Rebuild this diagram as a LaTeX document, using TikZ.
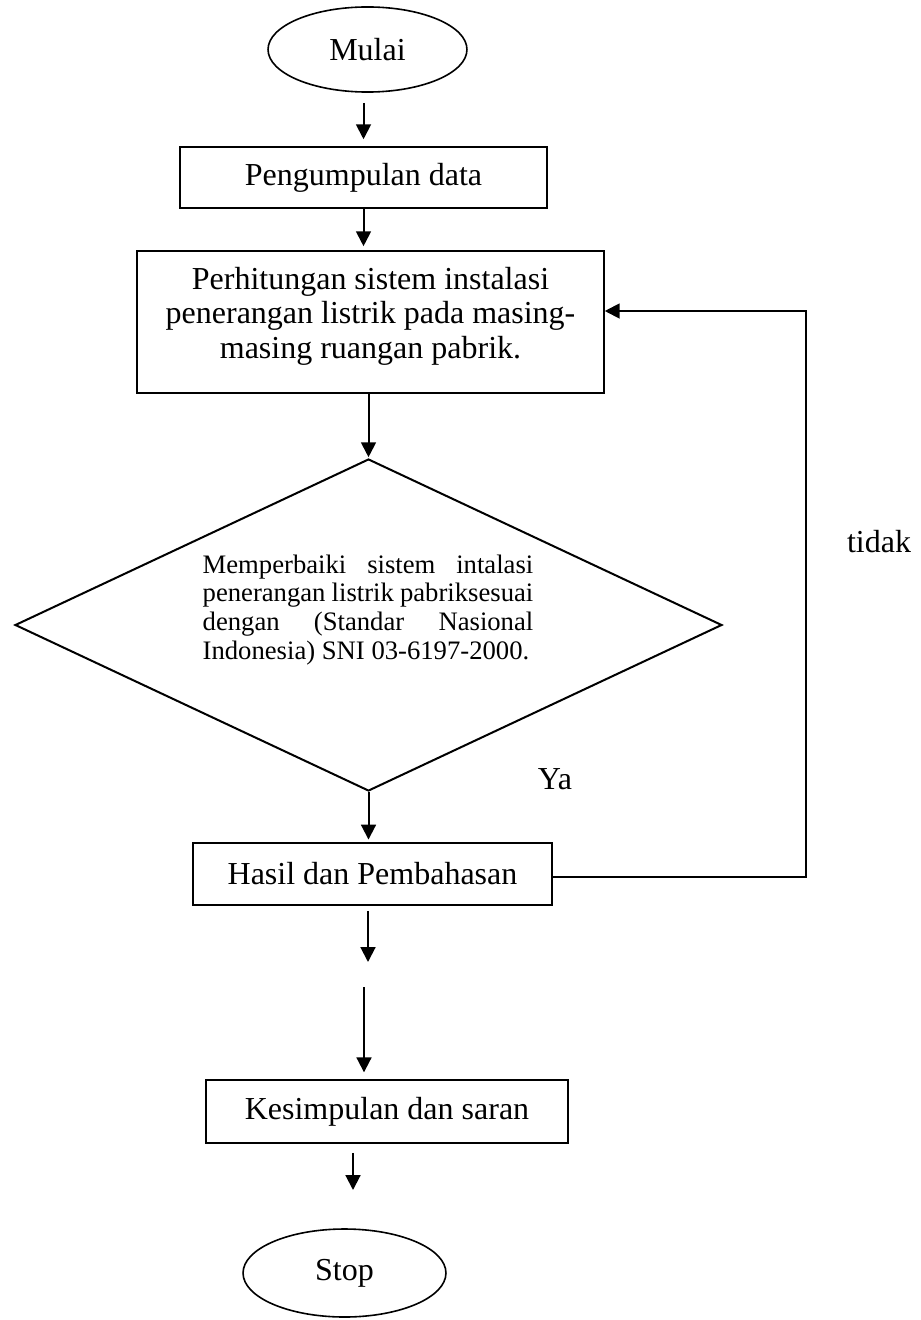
\documentclass[tikz,border=0pt]{standalone}
\usepackage{fontspec}
\setmainfont{Liberation Serif}
\usetikzlibrary{shapes.geometric,arrows.meta}
\begin{document}
\begin{tikzpicture}[x=0.375pt,y=-0.375pt,
  box/.style={draw,line width=0.6pt,inner sep=0pt,font=\fontsize{12}{14}\selectfont},
  term/.style={draw,ellipse,line width=0.6pt,inner sep=0pt,font=\fontsize{12}{14}\selectfont},
  decis/.style={draw,diamond,line width=0.75pt,inner sep=0pt,aspect=2.1},
  arr/.style={line width=0.75pt,-{Triangle[length=5.6pt,width=5.6pt]}},
  lbl/.style={inner sep=0pt,font=\fontsize{12}{14}\selectfont},
  dline/.style={inner sep=0pt,anchor=base,font=\fontsize{10}{11}\selectfont}]
\useasboundingbox (0,0) rectangle (921,1320);
% nodes
\node[term,minimum width=74.6pt,minimum height=31.9pt] (m) at (367.5,49.5) {Mulai};
\node[box,minimum width=137.6pt,minimum height=22.9pt] (b1) at (363.5,177.5) {Pengumpulan data};
\node[box,minimum width=175.1pt,minimum height=53.25pt] (b2) at (370.5,322) {};
\node[lbl,align=center,font=\fontsize{12}{12.94}\selectfont] (t2) at (370.5,316)
  {Perhitungan sistem instalasi\\penerangan listrik pada masing-\\masing ruangan pabrik.};
\node[decis,minimum width=265.1pt,minimum height=124.5pt] (dec) at (368.5,625) {};
\node[dline] (d1) at (368,573) {\makebox[124pt][s]{Memperbaiki sistem intalasi}};
\node[dline] (d2) at (368,601) {\makebox[124pt][s]{penerangan listrik pabriksesuai}};
\node[dline] (d3) at (368,630) {\makebox[124pt][s]{dengan (Standar Nasional}};
\node[dline] (d4) at (368,659) {\makebox[124pt][l]{Indonesia) SNI 03-6197-2000.}};
\node[box,minimum width=134.6pt,minimum height=23.25pt] (h) at (372.5,874) {Hasil dan Pembahasan};
\node[box,minimum width=135.75pt,minimum height=23.6pt] (k) at (387,1111.5) {Kesimpulan dan saran};
\node[term,minimum width=76.1pt,minimum height=33pt] (s) at (344.5,1273) {Stop};
\node[lbl] (no) at (879,542) {tidak};
\node[lbl] (yes) at (555,779) {Ya};
% connectors
\draw[arr,shorten <=3.75pt,shorten >=2.6pt] (b1.north |- m.south) -- (b1.north);
\draw[arr,shorten >=1.5pt] (b1.south) -- (b1.south |- b2.north);
\draw[arr,shorten >=0.3pt] (b2.south -| dec.north) -- (dec.north);
\draw[arr,shorten >=1pt] (dec.south) -- (dec.south |- h.north);
\coordinate (c1) at (368,962);
\draw[arr,shorten <=1.9pt] (h.south -| c1) -- (c1);
\coordinate (c2) at (364,987);
\draw[arr,shorten >=2.6pt] (c2) -- (c2 |- k.north);
\coordinate (c3) at (353,1190);
\draw[arr,shorten <=3.4pt] (k.south -| c3) -- (c3);
\coordinate (fb) at (806,311);
\draw[arr] ([yshift=-1.1pt]h.east) -| (fb) -- (fb -| b2.east);
\end{tikzpicture}
\end{document}
